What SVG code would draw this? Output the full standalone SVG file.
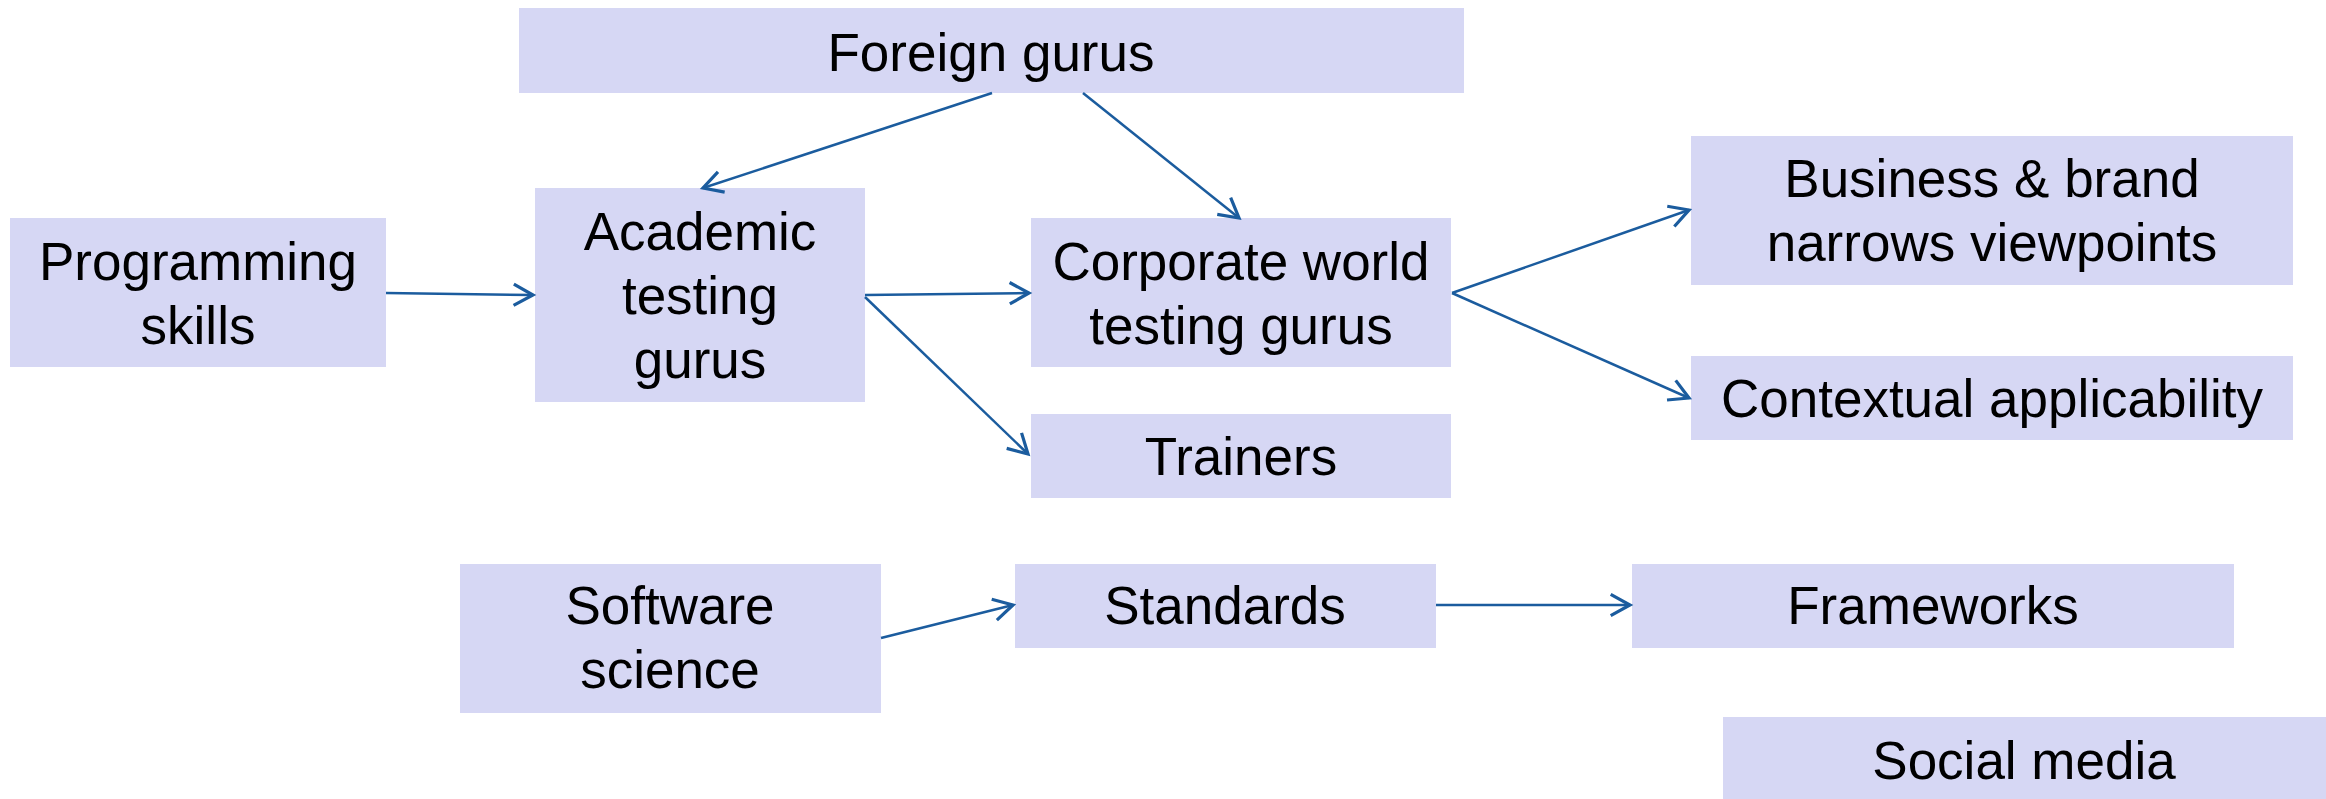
<svg xmlns="http://www.w3.org/2000/svg" width="2326" height="799" viewBox="0 0 2326 799">
  <style>
    .box { fill: #D6D7F4; }
    .lbl { font-family: "Liberation Sans", Arial, sans-serif; font-size: 53px; fill: #000; text-anchor: middle; }
    .conn { stroke: #1B5C9E; stroke-width: 2.5; fill: none; marker-end: url(#arr); }
  </style>
  <defs>
    <marker id="arr" markerUnits="userSpaceOnUse" markerWidth="30" markerHeight="30" viewBox="-22 -14 26 28" refX="0" refY="0" orient="auto">
      <path d="M-18,-10 L0,0 L-18,10" fill="none" stroke="#1B5C9E" stroke-width="3"/>
    </marker>
  </defs>
  <rect width="2326" height="799" fill="#fff"/>

  <g id="foreign-gurus">
    <rect class="box" x="519" y="8" width="945" height="85"/>
    <text class="lbl" x="991" y="71">Foreign gurus</text>
  </g>
  <g id="programming-skills">
    <rect class="box" x="10" y="218" width="376" height="149"/>
    <text class="lbl" x="198" y="280">Programming</text>
    <text class="lbl" x="198" y="344">skills</text>
  </g>
  <g id="academic-testing-gurus">
    <rect class="box" x="535" y="188" width="330" height="214"/>
    <text class="lbl" x="700" y="250">Academic</text>
    <text class="lbl" x="700" y="314">testing</text>
    <text class="lbl" x="700" y="378">gurus</text>
  </g>
  <g id="corporate-world-testing-gurus">
    <rect class="box" x="1031" y="218" width="420" height="149"/>
    <text class="lbl" x="1241" y="280">Corporate world</text>
    <text class="lbl" x="1241" y="344">testing gurus</text>
  </g>
  <g id="trainers">
    <rect class="box" x="1031" y="414" width="420" height="84"/>
    <text class="lbl" x="1241" y="475">Trainers</text>
  </g>
  <g id="business-brand">
    <rect class="box" x="1691" y="136" width="602" height="149"/>
    <text class="lbl" x="1992" y="197">Business &amp; brand</text>
    <text class="lbl" x="1992" y="261">narrows viewpoints</text>
  </g>
  <g id="contextual-applicability">
    <rect class="box" x="1691" y="356" width="602" height="84"/>
    <text class="lbl" x="1992" y="417">Contextual applicability</text>
  </g>
  <g id="software-science">
    <rect class="box" x="460" y="564" width="421" height="149"/>
    <text class="lbl" x="670" y="624">Software</text>
    <text class="lbl" x="670" y="688">science</text>
  </g>
  <g id="standards">
    <rect class="box" x="1015" y="564" width="421" height="84"/>
    <text class="lbl" x="1225" y="624">Standards</text>
  </g>
  <g id="frameworks">
    <rect class="box" x="1632" y="564" width="602" height="84"/>
    <text class="lbl" x="1933" y="624">Frameworks</text>
  </g>
  <g id="social-media">
    <rect class="box" x="1723" y="717" width="603" height="82"/>
    <text class="lbl" x="2024" y="779">Social media</text>
  </g>

  <g id="connectors">
    <line class="conn" x1="992" y1="93" x2="703" y2="188"/>
    <line class="conn" x1="1083" y1="93" x2="1239" y2="218"/>
    <line class="conn" x1="386" y1="293" x2="533" y2="295"/>
    <line class="conn" x1="865" y1="295" x2="1029" y2="293"/>
    <line class="conn" x1="865" y1="297" x2="1028" y2="454"/>
    <line class="conn" x1="1452" y1="293" x2="1689" y2="210"/>
    <line class="conn" x1="1452" y1="293" x2="1689" y2="398"/>
    <line class="conn" x1="881" y1="638" x2="1013" y2="605"/>
    <line class="conn" x1="1436" y1="605" x2="1630" y2="605"/>
  </g>
</svg>
